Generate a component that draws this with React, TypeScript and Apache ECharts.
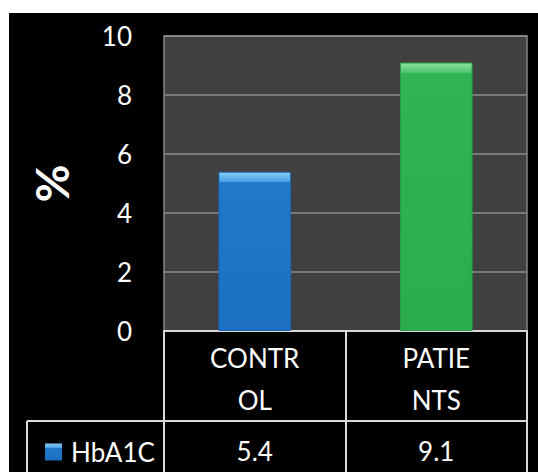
import React, { useEffect, useRef } from "react";
import * as echarts from "echarts";

const categories = ["CONTROL", "PATIENTS"];
const seriesName = "HbA1C";
const hba1c = [5.4, 9.1];
const yMin = 0;
const yMax = 10;
const yStep = 2;

const FONT = "Lato, 'Open Sans', sans-serif";

const blueGrad = (bevel: number) =>
  new echarts.graphic.LinearGradient(0, 0, 0, 1, [
    { offset: 0, color: "#86cdf7" },
    { offset: bevel, color: "#4aa2e2" },
    { offset: bevel + 0.004, color: "#2179ca" },
    { offset: 1, color: "#1c6fc1" },
  ]);
const greenGrad = (bevel: number) =>
  new echarts.graphic.LinearGradient(0, 0, 0, 1, [
    { offset: 0, color: "#8ce0a0" },
    { offset: bevel, color: "#4fc26e" },
    { offset: bevel + 0.004, color: "#30b455" },
    { offset: 1, color: "#2aac4f" },
  ]);

export default function App() {
  const ref = useRef<HTMLDivElement>(null);
  useEffect(() => {
    if (!ref.current) return;
    const chart = echarts.init(ref.current, undefined, { renderer: "svg" });
    const lineColor = "#d9d9d9";
    chart.setOption({
      animation: false,
      backgroundColor: "#000000",
      textStyle: { fontFamily: FONT },
      grid: {
        left: 155,
        right: 11,
        top: 23,
        bottom: 141,
        show: true,
        backgroundColor: "#404040",
        borderColor: "#858585",
        borderWidth: 1.5,
      },
      legend: {
        data: [seriesName],
        left: 31,
        top: 421,
        itemWidth: 17,
        itemHeight: 17,
        icon: "rect",
        textStyle: {
          color: "#ffffff",
          fontSize: 26,
          fontFamily: FONT,
          padding: [0, 0, 0, 4],
        },
      },
      xAxis: [
        {
          type: "category",
          data: categories,
          position: "bottom",
          axisLine: { show: true, lineStyle: { color: lineColor, width: 2 } },
          axisTick: { show: true, length: 90, lineStyle: { color: lineColor, width: 2 } },
          axisLabel: {
            color: "#ffffff",
            fontSize: 26,
            lineHeight: 42,
            margin: 6,
            fontFamily: FONT,
            formatter: (v: string) => v.slice(0, 5) + "\n" + v.slice(5),
          },
        },
        {
          type: "category",
          data: hba1c.map((v) => v.toFixed(1)),
          position: "bottom",
          offset: 90,
          axisLine: { show: true, lineStyle: { color: lineColor, width: 2 } },
          axisTick: { show: true, length: 60, lineStyle: { color: lineColor, width: 2 } },
          axisLabel: {
            color: "#ffffff",
            fontSize: 26,
            lineHeight: 30,
            margin: 15,
            fontFamily: FONT,
          },
        },
      ],
      yAxis: {
        type: "value",
        min: yMin,
        max: yMax,
        interval: yStep,
        name: "%",
        nameLocation: "middle",
        nameRotate: 90,
        nameGap: 90,
        nameTextStyle: {
          color: "#ffffff",
          fontSize: 46,
          fontWeight: "bold",
          fontFamily: FONT,
        },
        axisLine: { show: false },
        axisTick: { show: false },
        axisLabel: { color: "#ffffff", fontSize: 26, margin: 32, fontFamily: FONT },
        splitLine: { lineStyle: { color: "#8c8c8c", width: 1.5 } },
      },
      graphic: [
        {
          type: "line",
          shape: { x1: 18, y1: 408, x2: 155, y2: 408 },
          style: { stroke: lineColor, lineWidth: 2 },
        },
        {
          type: "line",
          shape: { x1: 18, y1: 408, x2: 18, y2: 470 },
          style: { stroke: lineColor, lineWidth: 2 },
        },
      ],
      series: [
        {
          name: seriesName,
          type: "bar",
          xAxisIndex: 0,
          barWidth: "40%",
          itemStyle: { color: blueGrad(0.25) },
          data: [
            {
              value: hba1c[0],
              itemStyle: { color: blueGrad(0.06), borderColor: "#1a66b3", borderWidth: 1 },
            },
            {
              value: hba1c[1],
              itemStyle: { color: greenGrad(0.036), borderColor: "#27a049", borderWidth: 1 },
            },
          ],
        },
      ],
    });
    return () => chart.dispose();
  }, []);
  return (
    <div
      style={{
        position: "fixed",
        left: 0,
        top: 0,
        width: 538,
        height: 472,
        background: "#ffffff",
      }}
    >
      <div
        ref={ref}
        style={{ position: "absolute", left: 9, top: 13, width: 529, height: 459 }}
      />
    </div>
  );
}
